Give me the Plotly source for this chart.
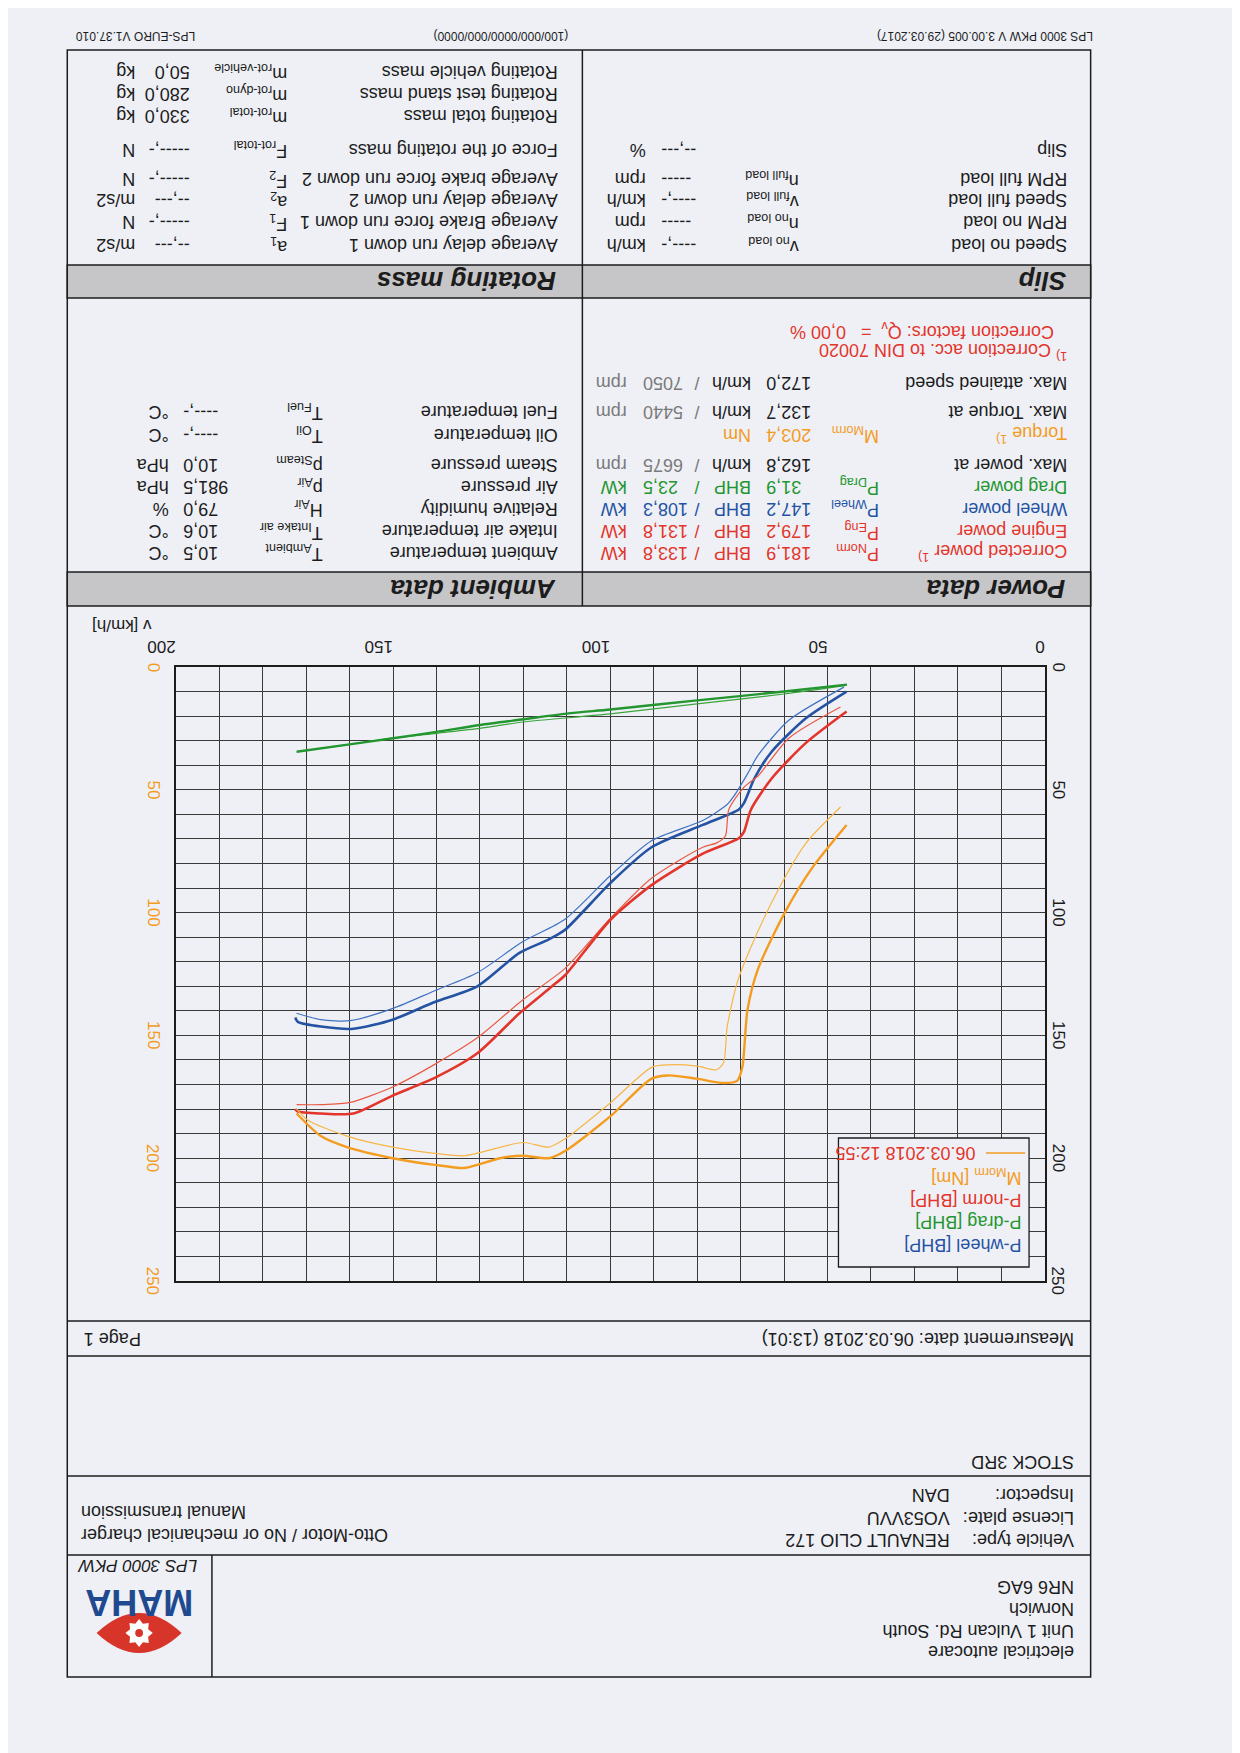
import math
import plotly.graph_objects as go

# ---- curve data (read from the sheet) : v in km/h, power in BHP, torque in Nm ----
wheel_v = [45.6, 54.9, 62.8, 66.8, 69.2, 70.4, 78.7, 90.5, 100, 110.4, 114.1, 120.9, 130.6, 140.4, 150.1, 159.1, 166.6, 171.9, 172.5]
wheel_p = [10.0, 20.8, 34.4, 45.3, 55.3, 58.0, 64.3, 73.4, 88.0, 107.0, 110.9, 116.4, 130.0, 136.4, 143.6, 147.3, 146.4, 144.5, 142.7]
wheel2_v = [46.2, 58.9, 66.0, 68.4, 71.5, 73.1, 78.7, 90.5, 100, 110.4, 120.1, 130.6, 140.4, 150.0, 159.9, 166.6, 172.2]
wheel2_p = [8.2, 21.7, 36.0, 43.5, 52.5, 56.0, 62.5, 70.7, 85.0, 102.7, 111.8, 124.5, 131.8, 139.0, 144.0, 143.6, 141.0]

norm_v = [45.6, 54.9, 62.8, 67.6, 69.2, 70.4, 78.7, 90.5, 100, 110.4, 113.4, 120.9, 130.6, 140.4, 150.1, 159.1, 166.6, 171.9, 172.5]
norm_p = [18.1, 30.8, 45.3, 58.0, 67.0, 69.7, 76.0, 88.8, 103.0, 125.5, 130.0, 141.0, 157.3, 167.3, 174.5, 181.8, 181.8, 181.0, 180.0]
norm2_v = [47.0, 58.9, 66.0, 69.2, 72.7, 73.5, 75.5, 78.7, 90.5, 100, 110.4, 120.1, 130.6, 140.4, 150.1, 159.9, 166.6, 172.2]
norm2_p = [16.3, 29.0, 44.4, 48.9, 58.0, 68.8, 71.6, 73.4, 86.0, 102.4, 122.7, 135.5, 151.0, 161.8, 171.0, 177.3, 178.2, 178.2]

drag_v = [45.5, 60, 80, 100, 110, 120, 130, 140, 150, 160, 172.2]
drag_p = [7.2, 10.0, 13.6, 17.3, 19.0, 21.3, 23.6, 26.4, 29.0, 31.5, 34.5]
drag2_v = [46, 60, 80, 100, 120, 130, 140, 150, 160, 172]
drag2_p = [7.6, 11.0, 15.0, 19.1, 22.4, 25.0, 27.0, 29.0, 31.5, 34.5]

torque_v = [45.6, 53.4, 59.7, 66.0, 68.4, 69.6, 70.8, 73.9, 80.2, 86.6, 90.5, 100, 110.3, 114.1, 120.1, 125.4, 130.6, 133.6, 140.4, 150.1, 160.6, 166.6, 172.2]
torque_m = [64.3, 81.5, 99.6, 123.0, 139.5, 163.0, 168.5, 169.4, 167.6, 166.3, 167.6, 183.0, 197.0, 200.0, 199.0, 200.0, 202.7, 204.0, 202.7, 200.0, 195.5, 191.0, 181.8]
torque2_v = [47.0, 54.9, 61.3, 67.6, 70.8, 73.1, 73.9, 75.5, 80, 86.6, 90.5, 100, 110.3, 114.1, 120.1, 129.1, 133.6, 140.4, 150.1, 160.6, 169.6, 172.2]
torque2_m = [57.0, 71.6, 90.6, 114.0, 128.6, 146.7, 161.0, 164.0, 162.5, 162.0, 163.0, 177.5, 192.0, 195.5, 193.6, 197.3, 199.0, 198.0, 195.5, 191.0, 184.5, 180.0]

x_ticks = [0, 50, 100, 150, 200]
y_ticks = [0, 50, 100, 150, 200, 250]

# ---- table texts ----
rot_labels = ['Rotating vehicle mass', 'Rotating test stand mass', 'Rotating total mass',
              'Force of the rotating mass', 'Average brake force run down 2', 'Average delay run down 2',
              'Average Brake force run down 1', 'Average delay run down 1']
rot_symbols = ['m<sub>rot-vehicle</sub>', 'm<sub>rot-dyno</sub>', 'm<sub>rot-total</sub>', 'F<sub>rot-total</sub>',
               'F<sub>2</sub>', 'a<sub>2</sub>', 'F<sub>1</sub>', 'a<sub>1</sub>']
rot_values = ['50,0', '280,0', '330,0', '-----,-', '-----,-', '--,---', '-----,-', '--,---']
rot_units = ['kg', 'kg', 'kg', 'N', 'N', 'm/s2', 'N', 'm/s2']

slip_labels = ['Slip', 'RPM full load', 'Speed full load', 'RPM no load', 'Speed no load']
slip_symbols = ['', 'n<sub>full load</sub>', 'v<sub>full load</sub>', 'n<sub>no load</sub>', 'v<sub>no load</sub>']
slip_values = ['--,---', '-----', '----,-', '-----', '----,-']
slip_units = ['%', 'rpm', 'km/h', 'rpm', 'km/h']

amb_labels = ['Fuel temperature', 'Oil temperature', 'Steam pressure', 'Air pressure',
              'Relative humidity', 'Intake air temperature', 'Ambient temperature']
amb_symbols = ['T<sub>Fuel</sub>', 'T<sub>Oil</sub>', 'p<sub>Steam</sub>', 'p<sub>Air</sub>',
               'H<sub>Air</sub>', 'T<sub>Intake air</sub>', 'T<sub>Ambient</sub>']
amb_values = ['----,-', '----,-', '10,0', '981,5', '79,0', '10,6', '10,5']
amb_units = ['°C', '°C', 'hPa', 'hPa', '%', '°C', '°C']

pow_labels = ['Max. attained speed', 'Max. Torque at', 'Torque <sup>1)</sup>', 'Max. power at',
              'Drag power', 'Wheel power', 'Engine power', 'Corrected power <sup>1)</sup>']
pow_symbols = ['', '', 'M<sub>Morm</sub>', '', 'P<sub>Drag</sub>', 'P<sub>Wheel</sub>', 'P<sub>Eng</sub>', 'P<sub>Norm</sub>']
pow_values = ['172,0', '132,7', '203,4', '162,8', '31,9', '147,2', '179,2', '181,9']
pow_units = ['km/h', 'km/h', 'Nm', 'km/h', 'BHP', 'BHP', 'BHP', 'BHP']
pow_values2 = ['7050', '5440', '', '6675', '23,5', '108,3', '131,8', '133,8']
pow_units2 = ['rpm', 'rpm', '', 'rpm', 'kW', 'kW', 'kW', 'kW']

# ---- colours / page geometry ----
BG = '#eef0f6'
INK = '#1c1c1c'
GRID = '#3a3a3a'
RED = '#e3352a'
BLUE = '#2553a3'
GREEN = '#23962f'
ORANGE = '#f39c1f'
GREY = '#7a7a7a'
FONT = 'Liberation Sans'

W, H = 1240, 1753
OFF = 8                 # browser body margin
X0, X1 = 151, 1040      # chart left / right (px)
Y0, Y1 = 667, 1281      # chart top / bottom (px)
L, R = 40, 1087         # page frame


def px(x):
    return (x - OFF) / W


def py(y):
    return 1 - (y - OFF) / H


annotations = []
shapes = []


def txt(x, y, s, size=18, color=INK, anchor='right', angle=180, yref='paper'):
    annotations.append(dict(x=px(x), y=py(y) if yref == 'paper' else y, xref='paper', yref=yref, text=s,
                            textangle=angle, xanchor=anchor, yanchor='middle', showarrow=False,
                            font=dict(family=FONT, size=size, color=color)))


def hline(y, x0=L, x1=R, width=1.5):
    shapes.append(dict(type='line', xref='paper', yref='paper', x0=px(x0), x1=px(x1), y0=py(y), y1=py(y),
                       line=dict(color=INK, width=width)))


def vline(x, y0, y1, width=1.5):
    shapes.append(dict(type='line', xref='paper', yref='paper', x0=px(x), x1=px(x), y0=py(y0), y1=py(y1),
                       line=dict(color=INK, width=width)))


def rect(x0, y0, x1, y1, fill=None, width=1.5, layer='below'):
    shapes.append(dict(type='rect', xref='paper', yref='paper', x0=px(x0), x1=px(x1), y0=py(y0), y1=py(y1),
                       line=dict(color=INK, width=width), fillcolor=fill or 'rgba(0,0,0,0)', layer=layer))


fig = go.Figure()


def curve(v, p, color, width, axis='y'):
    fig.add_trace(go.Scatter(x=v, y=p, mode='lines', yaxis=axis, hoverinfo='skip',
                             line=dict(color=color, width=width, shape='spline', smoothing=0.7)))


curve(drag2_v, drag2_p, '#3aa63a', 1.2)
curve(drag_v, drag_p, GREEN, 2.4)
curve(wheel2_v, wheel2_p, '#3f72c2', 1.2)
curve(wheel_v, wheel_p, BLUE, 2.6)
curve(norm2_v, norm2_p, '#ea5a44', 1.2)
curve(norm_v, norm_p, RED, 2.6)
curve(torque2_v, torque2_m, '#f7b646', 1.2, 'y2')
curve(torque_v, torque_m, ORANGE, 2.4, 'y2')

# ---- page frame and boxes ----
rect(L, 50, R, 1677)
rect(L, 265, R, 298, fill='#c6c6c9')
rect(L, 572, R, 606, fill='#c6c6c9')
vline(567, 50, 606)
hline(1321)
hline(1356)
hline(1476)
hline(1555)
vline(188, 1555, 1677)

# top line texts
txt(1092, 36, 'LPS 3000 PKW V 3.00.005 (29.03.2017)', size=12)
txt(555, 36, '(100/000/0000/000/0000)', size=12)
txt(46, 36, 'LPS-EURO V1.37.010', size=12, anchor='left')

# rotating mass
rot_y = [72, 94, 116, 150, 179, 200, 222, 245]
for i, yy in enumerate(rot_y):
    txt(544, yy, rot_labels[i])
    txt(267, yy, rot_symbols[i])
    txt(167, yy, rot_values[i])
    txt(112, yy, rot_units[i])

# slip
slip_y = [150, 179, 200, 222, 245]
for i, yy in enumerate(slip_y):
    txt(1065, yy, slip_labels[i])
    if slip_symbols[i]:
        txt(790, yy, slip_symbols[i])
    txt(646, yy, slip_values[i], anchor='left')
    txt(634, yy, slip_units[i])

# section titles
txt(542, 281, '<b><i>Rotating mass</i></b>', size=26)
txt(1064, 281, '<b><i>Slip</i></b>', size=26)
txt(542, 589, '<b><i>Ambient data</i></b>', size=26)
txt(1063, 589, '<b><i>Power data</i></b>', size=26)

# ambient
amb_y = [412, 435, 465, 487, 509, 531, 553]
for i, yy in enumerate(amb_y):
    txt(544, yy, amb_labels[i])
    txt(303, yy, amb_symbols[i])
    txt(157, yy, amb_values[i], anchor='left')
    txt(146, yy, amb_units[i])

# power data
txt(1051, 330, 'Correction factors: Q<sub>v</sub>  =   0,00 %', color=RED)
txt(1065, 352, '<sup>1)</sup> Correction acc. to DIN 70020', color=RED)
pow_y = [383, 412, 435, 465, 487, 509, 531, 553]
pow_col = [INK, INK, ORANGE, INK, GREEN, BLUE, RED, RED]
for i, yy in enumerate(pow_y):
    c = pow_col[i]
    txt(1065, yy, pow_labels[i], color=c)
    if pow_symbols[i]:
        txt(872, yy, pow_symbols[i], color=c)
    txt(753, yy, pow_values[i], anchor='left', color=c)
    txt(741, yy, pow_units[i], color=c)
    if pow_values2[i]:
        c2 = GREY if c == INK else c
        txt(684, yy, '/', anchor='center', color=c2)
        txt(627, yy, pow_values2[i], anchor='left', color=c2)
        txt(614, yy, pow_units2[i], color=c2)

# axis caption and y tick labels (rotated like the sheet)
txt(128, 626, 'v [km/h]', size=17)
for t in y_ticks:
    txt(1054, t, str(t), size=17, anchor='center', angle=90, yref='y')
    txt(128, t, str(t), size=17, anchor='center', angle=90, color=ORANGE, yref='y')

# legend box
rect(829, 1138, 1024, 1267, fill=BG, width=1.3, layer='above')
txt(1018, 1245, 'P-wheel [BHP]', color=BLUE)
txt(1018, 1222, 'P-drag [BHP]', color=GREEN)
txt(1018, 1200, 'P-norm [BHP]', color=RED)
txt(1018, 1177, 'M<sub>Morm</sub> [Nm]', color=ORANGE)
shapes.append(dict(type='line', xref='paper', yref='paper', x0=px(980), x1=px(1020), y0=py(1153), y1=py(1153),
                   line=dict(color=ORANGE, width=1.5), layer='above'))
txt(971, 1153, '06.03.2018 12:55', color=RED)

# footer
txt(1072, 1339, 'Measurement date: 06.03.2018 (13:01)')
txt(55, 1339, 'Page 1', anchor='left')
txt(1072, 1462, 'STOCK 3RD')
txt(1072, 1495, 'Inspector:')
txt(945, 1495, 'DAN')
txt(1072, 1518, 'License plate:')
txt(945, 1518, 'VO53VVU')
txt(1072, 1540, 'Vehicle type:')
txt(945, 1540, 'RENAULT CLIO 172')
txt(52, 1535, 'Otto-Motor / No or mechanical charger', anchor='left')
txt(52, 1512, 'Manual transmission', anchor='left')
txt(48, 1566, '<i>LPS 3000 PKW</i>', anchor='left', size=17)
txt(1072, 1587, 'NR6 6AG')
txt(1072, 1609, 'Norwich')
txt(1072, 1631, 'Unit 1 Vulcan Rd. South')
txt(1072, 1652, 'electrical autocare')

# MAHA logo
lx0, lx1, ly0, ly1 = 70, 157, 1613, 1653
lxc, lyc = (lx0 + lx1) / 2, (ly0 + ly1) / 2
shapes.append(dict(type='path', xref='paper', yref='paper', fillcolor='#d8352a', line=dict(width=0),
                   path=f'M {px(lx0)},{py(lyc)} Q {px(lxc)},{py(ly0 - 20)} {px(lx1)},{py(lyc)} '
                        f'Q {px(lxc)},{py(ly1 + 20)} {px(lx0)},{py(lyc)} Z'))
gear = []
for k in range(16):
    r = 14 if k % 2 == 0 else 10
    a = k * math.pi / 8
    gear.append(f'{px(lxc + r * math.cos(a))},{py(lyc + r * math.sin(a))}')
shapes.append(dict(type='path', xref='paper', yref='paper', fillcolor='white', line=dict(width=0),
                   path='M ' + ' L '.join(gear) + ' Z'))
shapes.append(dict(type='circle', xref='paper', yref='paper', fillcolor='#d8352a', line=dict(width=0),
                   x0=px(lxc - 4), x1=px(lxc + 4), y0=py(lyc + 4), y1=py(lyc - 4)))
annotations.append(dict(x=px(lxc), y=py(1603), xref='paper', yref='paper', text='<b>MAHA</b>', textangle=180,
                        xanchor='center', yanchor='middle', showarrow=False,
                        font=dict(family='Liberation Sans Narrow, Liberation Sans', size=36, color='#1f4a8f')))

grid = dict(showgrid=True, gridcolor=GRID, gridwidth=1)
fig.update_layout(
    width=W, height=H, margin=dict(l=0, r=0, t=0, b=0),
    paper_bgcolor=BG, plot_bgcolor=BG, showlegend=False,
    font=dict(family=FONT, color=INK),
    xaxis=dict(domain=[px(X0), px(X1)], range=[200, 0], side='top', tickmode='array', tickvals=x_ticks,
               tickangle=180, tickfont=dict(size=17, color=INK), ticks='', zeroline=False,
               showline=True, mirror=True, linecolor=INK, linewidth=1.5,
               minor=dict(dtick=10, tick0=0, showgrid=True, gridcolor=GRID, gridwidth=1), **grid),
    yaxis=dict(domain=[py(Y1), py(Y0)], range=[250, 0], side='right', tickmode='array', tickvals=y_ticks,
               showticklabels=False, ticks='', zeroline=False,
               showline=True, mirror=True, linecolor=INK, linewidth=1.5,
               minor=dict(dtick=10, tick0=0, showgrid=True, gridcolor=GRID, gridwidth=1), **grid),
    yaxis2=dict(overlaying='y', side='left', range=[250, 0], showticklabels=False, ticks='',
                showgrid=False, zeroline=False),
    annotations=annotations,
    shapes=shapes,
)

fig.write_html("out.html")
